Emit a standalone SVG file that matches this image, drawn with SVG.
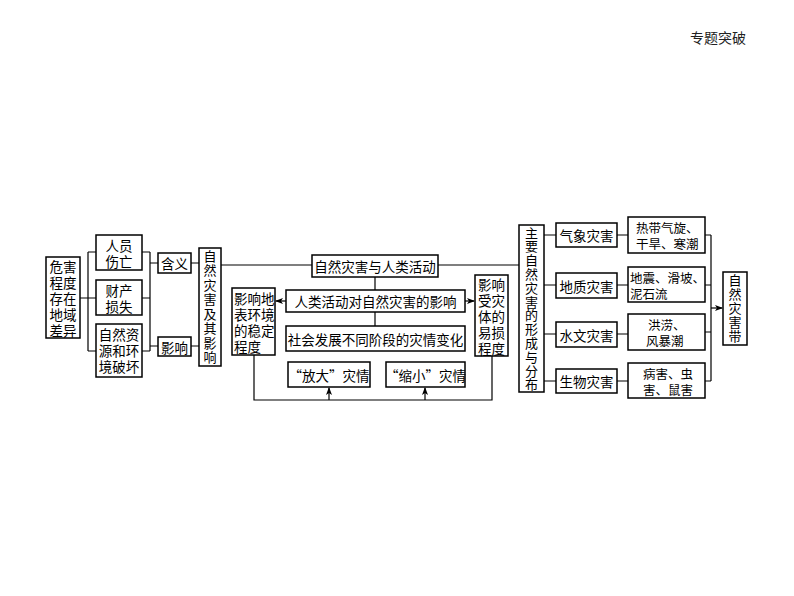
<svg xmlns="http://www.w3.org/2000/svg" width="794" height="596" viewBox="0 0 794 596">
<defs>
<marker id="ah" markerWidth="8" markerHeight="6" refX="7" refY="3" orient="auto" markerUnits="userSpaceOnUse">
<path d="M0,0 L8,3 L0,6 L2,3 Z" fill="#000"/>
</marker>
<style>
.b{fill:#fff;stroke:#000;stroke-width:1.5}
.t{font-family:"Noto Sans CJK SC","Noto Sans CJK JP",sans-serif;font-size:13.5px;fill:#000;text-anchor:middle;dominant-baseline:central}
.v{font-size:13px;writing-mode:vertical-rl;text-orientation:upright}
.s{font-size:12.5px}
.l{text-anchor:start}
.c{fill:none;stroke:#000;stroke-width:1.2}
</style>
</defs>
<rect width="794" height="596" fill="#fff"/>
<text x="718" y="37" class="t" style="font-size:14px;fill:#222">专题突破</text>

<g id="connectors" class="c">
<path d="M80,298H88M88,252V351M88,252H96M88,298H96M88,351H96"/>
<path d="M142,252H150M142,298H150M142,351H150M150,252V351M150,263H158M150,346H158"/>
<path d="M191,263H199M191,346H199"/>
<path d="M221,265H312M438,265H519"/>
<path d="M375,277V290M375,312V326"/>
<path d="M286,301H276" marker-end="url(#ah)"/>
<path d="M465,301H474" marker-end="url(#ah)"/>
<path d="M254,355V400H492V356"/>
<path d="M329,400V388" marker-end="url(#ah)"/>
<path d="M425,400V388" marker-end="url(#ah)"/>
<path d="M544,235H556M544,285H556M544,334H556M544,381H556"/>
<path d="M617,235H628M617,285H628M617,334H628M617,381H628"/>
<path d="M705,235H711M705,285H711M705,332H711M705,381H711M711,235V381"/>
<path d="M711,308H722" marker-end="url(#ah)"/>
</g>

<g id="n1"><rect class="b" x="46" y="257" width="34" height="81"/>
<text class="t"><tspan x="63" y="266">危害</tspan><tspan x="63" dy="16">程度</tspan><tspan x="63" dy="16">存在</tspan><tspan x="63" dy="16">地域</tspan><tspan x="63" dy="16">差异</tspan></text></g>

<g id="n2"><rect class="b" x="96" y="235" width="46" height="35"/>
<text class="t"><tspan x="119" y="245">人员</tspan><tspan x="119" dy="16">伤亡</tspan></text></g>
<g id="n3"><rect class="b" x="96" y="280" width="46" height="35"/>
<text class="t"><tspan x="119" y="290">财产</tspan><tspan x="119" dy="16">损失</tspan></text></g>
<g id="n4"><rect class="b" x="96" y="324" width="46" height="53"/>
<text class="t"><tspan x="119" y="334">自然资</tspan><tspan x="119" dy="16">源和环</tspan><tspan x="119" dy="16">境破坏</tspan></text></g>

<g id="n5"><rect class="b" x="158" y="253" width="33" height="20"/>
<text class="t" x="174.5" y="263">含义</text></g>
<g id="n6"><rect class="b" x="158" y="337" width="33" height="19"/>
<text class="t" x="174.5" y="346.5">影响</text></g>

<g id="n7"><rect class="b" x="199" y="248" width="22" height="118"/>
<text class="t v" x="210" y="307.5" style="letter-spacing:1.5px">自然灾害及其影响</text></g>

<g id="n8"><rect class="b" x="312" y="255" width="126" height="22"/>
<text class="t" x="375" y="266">自然灾害与人类活动</text></g>
<g id="n9"><rect class="b" x="286" y="290" width="179" height="22"/>
<text class="t" x="375.5" y="301">人类活动对自然灾害的影响</text></g>
<g id="n10"><rect class="b" x="286" y="326" width="179" height="25"/>
<text class="t" x="375.5" y="338.5">社会发展不同阶段的灾情变化</text></g>
<g id="n11"><rect class="b" x="288" y="362" width="82" height="25"/>
<text class="t" x="329" y="374.5">“放大”灾情</text></g>
<g id="n12"><rect class="b" x="386" y="362" width="79" height="25"/>
<text class="t" x="425.5" y="374.5">“缩小”灾情</text></g>

<g id="n13"><rect class="b" x="232" y="288" width="43" height="67"/>
<text class="t l"><tspan x="234" y="298">影响地</tspan><tspan x="234" dy="16">表环境</tspan><tspan x="234" dy="16">的稳定</tspan><tspan x="234" dy="16">程度</tspan></text></g>
<g id="n14"><rect class="b" x="475" y="275" width="33" height="81"/>
<text class="t"><tspan x="491.5" y="284">影响</tspan><tspan x="491.5" dy="16">受灾</tspan><tspan x="491.5" dy="16">体的</tspan><tspan x="491.5" dy="16">易损</tspan><tspan x="491.5" dy="16">程度</tspan></text></g>

<g id="n15"><rect class="b" x="519" y="225" width="25" height="167"/>
<text class="t v" x="531.5" y="309" style="letter-spacing:0.8px">主要自然灾害的形成与分布</text></g>

<g id="n16"><rect class="b" x="556" y="223" width="61" height="24"/>
<text class="t" x="586.5" y="235">气象灾害</text></g>
<g id="n17"><rect class="b" x="556" y="273" width="61" height="25"/>
<text class="t" x="586.5" y="285.5">地质灾害</text></g>
<g id="n18"><rect class="b" x="556" y="322" width="61" height="25"/>
<text class="t" x="586.5" y="334.5">水文灾害</text></g>
<g id="n19"><rect class="b" x="556" y="369" width="61" height="24"/>
<text class="t" x="586.5" y="381">生物灾害</text></g>

<g id="n20"><rect class="b" x="628" y="217" width="77" height="36"/>
<text class="t s l"><tspan x="636" y="227">热带气旋、</tspan><tspan x="636" dy="16">干旱、寒潮</tspan></text></g>
<g id="n21"><rect class="b" x="628" y="267" width="77" height="35"/>
<text class="t s l"><tspan x="630" y="277">地震、滑坡、</tspan><tspan x="630" dy="16">泥石流</tspan></text></g>
<g id="n22"><rect class="b" x="628" y="314" width="77" height="36"/>
<text class="t s l"><tspan x="648" y="324">洪涝、</tspan><tspan x="646" dy="16">风暴潮</tspan></text></g>
<g id="n23"><rect class="b" x="628" y="363" width="77" height="35"/>
<text class="t s l"><tspan x="643" y="373">病害、虫</tspan><tspan x="643" dy="16">害、鼠害</tspan></text></g>

<g id="n24"><rect class="b" x="723" y="272" width="24" height="73"/>
<text class="t v" x="735" y="309" style="letter-spacing:1px">自然灾害带</text></g>
</svg>
